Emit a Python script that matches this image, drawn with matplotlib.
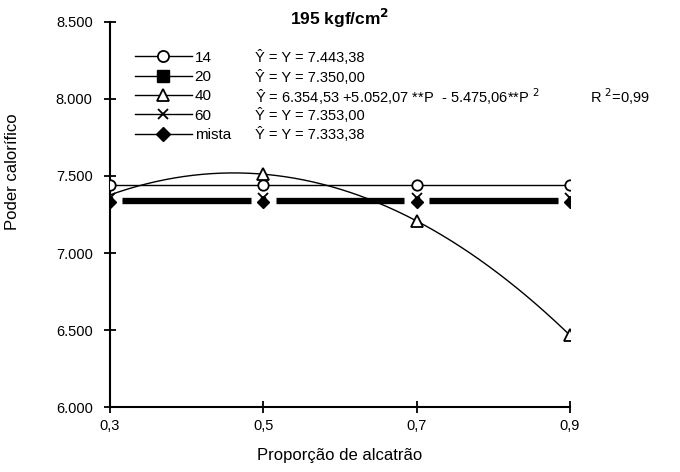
import numpy as np
import matplotlib.pyplot as plt
from matplotlib.lines import Line2D
from matplotlib.ticker import FuncFormatter

plt.rcParams["font.family"] = ["Liberation Sans", "DejaVu Sans"]

# tar proportion levels
prop = [0.3, 0.5, 0.7, 0.9]

# calorific value per particle size / mixture
serie_14 = [7443.38, 7443.38, 7443.38, 7443.38]
serie_20 = [7350.00, 7350.00, 7350.00, 7350.00]
serie_40 = [np.nan, 7511.8, 7208.2, 6466.6]
serie_60 = [7360.0, 7360.0, 7360.0, 7360.0]
serie_mista = [7333.38, 7333.38, 7333.38, 7333.38]

# quadratic fit for the 40 series
b0, b1, b2 = 6354.53, 5052.07, -5475.06

labels = ["14", "20", "40", "60", "mista"]
equations = [
    "Ŷ = Y = 7.443,38",
    "Ŷ = Y = 7.350,00",
    "Ŷ = 6.354,53 +5.052,07 **P  - 5.475,06**P $^2$",
    "Ŷ = Y = 7.353,00",
    "Ŷ = Y = 7.333,38",
]


def gapped(ax, xs, ys, gap, **kw):
    # thick line broken around each marker
    for i in range(len(xs) - 1):
        ax.plot([xs[i] + gap, xs[i + 1] - gap], [ys[i], ys[i + 1]],
                color="black", solid_capstyle="butt", **kw)


fig = plt.figure(figsize=(6.8, 4.72), dpi=100)
ax = fig.add_axes([0.1618, 0.1377, 0.838 - 0.1618, 0.9534 - 0.1377])

# horizontal fits drawn as thick broken bars
gapped(ax, prop, serie_20, 0.016, lw=2.4, zorder=2)
gapped(ax, prop, serie_mista, 0.016, lw=2.4, zorder=2)

ax.plot(prop, serie_14, color="black", lw=1.0, zorder=3)
xc = np.linspace(prop[0], prop[-1], 200)
ax.plot(xc, b0 + b1 * xc + b2 * xc ** 2, color="black", lw=1.0, zorder=3)

ax.plot(prop, serie_20, ls="none", marker="s", ms=3.5, color="black", zorder=4)
ax.plot(prop, serie_mista, ls="none", marker="D", ms=6.5, color="black", zorder=5)
ax.plot(prop, serie_60, ls="none", marker="x", ms=7, mew=1.3, color="black", zorder=5)
ax.plot(prop, serie_14, ls="none", marker="o", ms=7.5, mfc="white", mec="black",
        mew=1.3, zorder=6)
ax.plot(prop, serie_40, ls="none", marker="^", ms=8, mfc="white", mec="black",
        mew=1.3, zorder=6)

ax.set_xlim(0.3, 0.9)
ax.set_ylim(6000, 8500)
ax.set_xticks(prop)
ax.set_yticks([6000, 6500, 7000, 7500, 8000, 8500])
ax.xaxis.set_major_formatter(FuncFormatter(lambda v, p: f"{v:.1f}".replace(".", ",")))
ax.yaxis.set_major_formatter(FuncFormatter(lambda v, p: f"{v/1000:.3f}"))
ax.tick_params(direction="inout", length=9, width=1.3, labelsize=10.5)
ax.tick_params(axis="x", pad=4)
ax.tick_params(axis="y", pad=8)
for s in ["top", "right"]:
    ax.spines[s].set_visible(False)
for s in ["left", "bottom"]:
    ax.spines[s].set_linewidth(1.5)

ax.set_xlabel("Proporção de alcatrão", fontsize=12, labelpad=11)
ax.set_ylabel("Poder calorífico", fontsize=12)
ax.yaxis.set_label_coords(-0.196, 0.61)
fig.text(0.50, 0.96, "195 kgf/cm$^{\\mathbf{2}}$", ha="center", va="center",
         fontsize=12.5, fontweight="bold")

handles = [
    Line2D([], [], color="black", lw=1, marker="o", ms=8, mfc="white", mew=1.3),
    Line2D([], [], color="black", lw=1, marker="s", ms=8),
    Line2D([], [], color="black", lw=1, marker="^", ms=8.5, mfc="white", mew=1.3),
    Line2D([], [], color="black", lw=1, marker="x", ms=7.5, mew=1.3),
    Line2D([], [], color="black", lw=1, marker="D", ms=7),
]
ax.legend(handles, labels, loc="upper left", bbox_to_anchor=(135 / 680, 0.893),
          bbox_transform=fig.transFigure, frameon=False, fontsize=11,
          handlelength=3.7, handletextpad=0.2, labelspacing=0.35,
          borderaxespad=0, borderpad=0)

row0, dy = (472 - 58) / 472, 19.2 / 472
for i, eq in enumerate(equations):
    fig.text(255 / 680, row0 - i * dy, eq, fontsize=10.5, va="center", ha="left")
fig.text(590 / 680, row0 - 2 * dy, "R $^2$=0,99", fontsize=10.5, va="center", ha="left")

fig.savefig("out.png", dpi=100, facecolor="white")
